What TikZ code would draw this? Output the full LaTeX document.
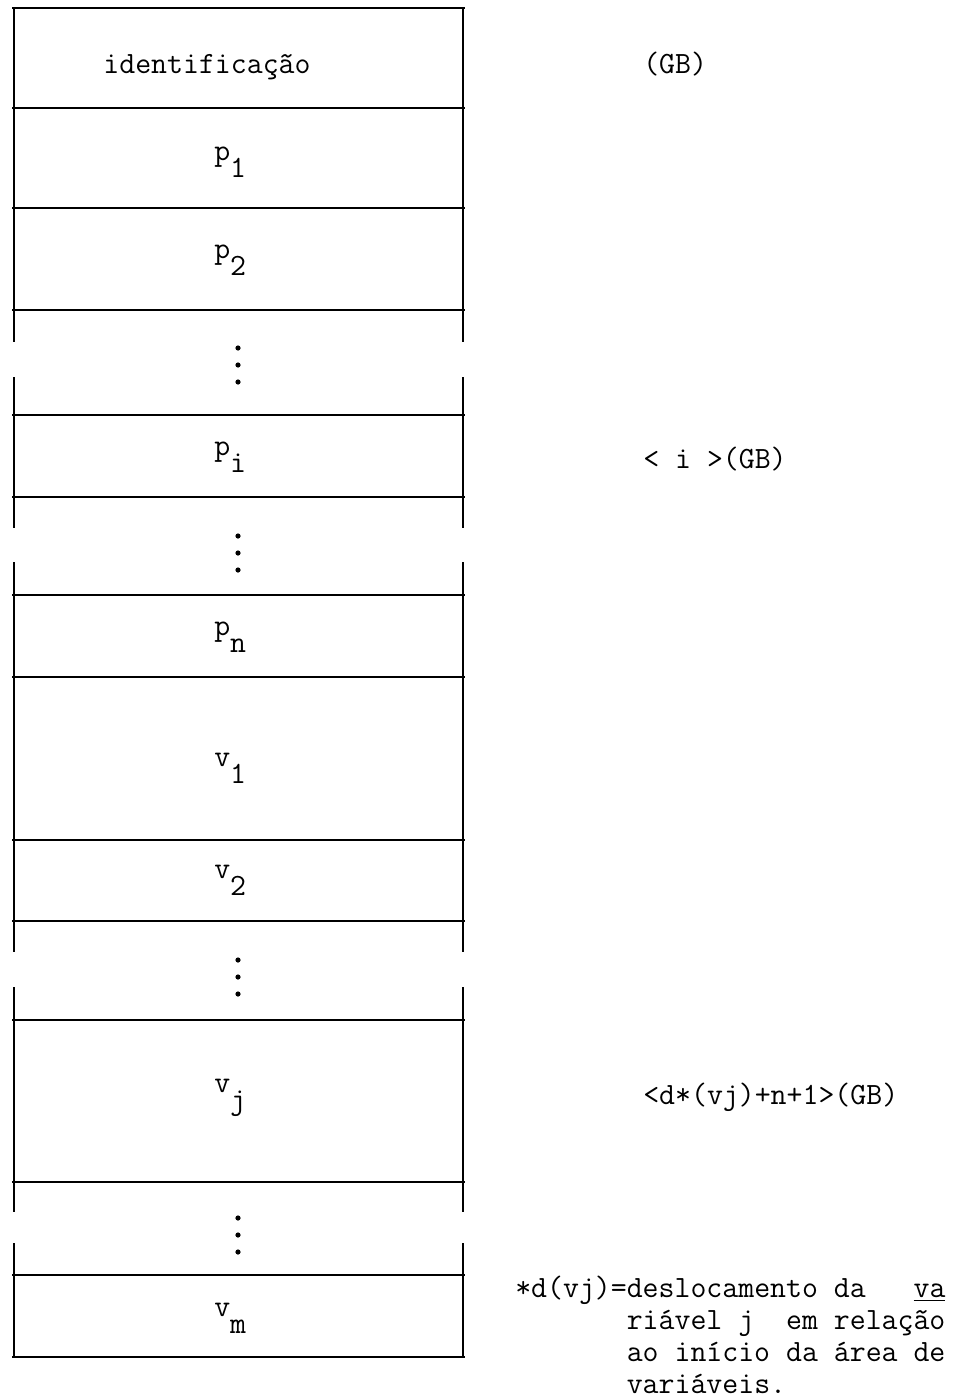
\documentclass[tikz,border=0pt]{standalone}
\usepackage{fontspec}
\usetikzlibrary{positioning}
\newcommand{\lowidx}[1]{\raisebox{-0.55em}{#1}}

\begin{document}
\begin{tikzpicture}[x=0.025cm, y=-0.025cm,
  rule/.style={line width=1.1pt},
  cell/.style={font=\ttfamily\fontsize{22}{22.8}\selectfont, inner sep=0pt, anchor=base west},
  side/.style={font=\ttfamily\fontsize{22}{22.8}\selectfont, inner sep=0pt, anchor=base west}]
\useasboundingbox (0,0) rectangle (960,1400);
% Row rules
\foreach \y in {8,108,208,310,415,497,595,677,840,921,1020,1182,1275,1357}
  \draw[rule] (12,\y) -- (465,\y);
% Side walls, left open where rows are skipped
\foreach \a/\b in {8/342,377/528,562/952,987/1212,1243/1357} {
  \draw[rule] (14,\a) -- (14,\b);
  \draw[rule] (463,\a) -- (463,\b);
}
% Skipped rows
\foreach \y in {348,536,960,1218}
  \foreach \k in {0,1,2}
    \fill (238,\y+17*\k) circle[radius=0.065cm];
% Row contents
\node[cell, anchor=base] (ident) at (207,74) {identificação};
\node[cell] (p1) at (214,160) {p\lowidx{1}};
\node[cell] (p2) at (214,258) {p\lowidx{2}};
\node[cell] (pi) at (214,455) {p\lowidx{i}};
\node[cell] (pn) at (214,635) {p\lowidx{n}};
\node[cell] (v1) at (214,766) {v\lowidx{1}};
\node[cell] (v2) at (214,878) {v\lowidx{2}};
\node[cell] (vj) at (214,1092) {v\lowidx{j}};
\node[cell] (vm) at (214,1316) {v\lowidx{m}};
% Addresses
\node[side] (gb) at (643,74) {(GB)};
\node[side] (gbi) at (643,468) {<~i~>(GB)};
\node[side] (gbj) at (643,1104) {<d*(vj)+n+1>(GB)};
% Footnote
\node[side, anchor=north west, align=left] (note) at (515,1276)
  {*d(vj)=deslocamento da~~~\underline{va}\\
   \phantom{*d(vj)=}riável j~~em relação\\
   \phantom{*d(vj)=}ao início da área de\\
   \phantom{*d(vj)=}variáveis.};
\end{tikzpicture}
\end{document}
